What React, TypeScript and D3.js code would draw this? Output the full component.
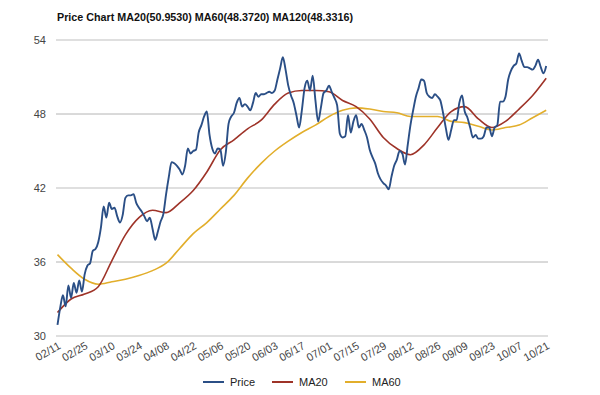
import React, { useEffect, useRef } from 'react';
import * as d3 from 'd3';

const title = 'Price Chart MA20(50.9530) MA60(48.3720) MA120(48.3316)';

// tick labels, one every 10 trading days
const tickLabels = [
	'02/11', '02/25', '03/10', '03/24', '04/08', '04/22', '05/06', '05/20', '06/03', '06/17',
	'07/01', '07/15', '07/29', '08/12', '08/26', '09/09', '09/23', '10/07', '10/21',
];

// daily close, 181 trading days
const price = [
	30.9, 32.3, 33.3, 32.4, 34.1, 33.1, 34.3, 33.5, 34.5, 33.6,
	35.0, 35.7, 35.9, 36.9, 37.05, 37.6, 38.8, 40.5, 39.6, 40.8,
	40.3, 40.4, 39.7, 39.2, 39.8, 41.2, 41.4, 41.4, 41.5, 40.8,
	40.4, 40.1, 39.7, 39.3, 39.6, 38.7, 37.8, 38.5, 39.3, 39.9,
	41.5, 42.9, 44.1, 44.0, 43.8, 43.5, 43.1, 43.8, 45.2, 44.8,
	45.0, 45.1, 46.5, 47.1, 47.8, 48.2, 46.3, 45.2, 44.8, 45.2,
	45.1, 43.8, 44.9, 47.2, 47.8, 48.1, 48.9, 49.3, 48.6, 48.8,
	48.6, 48.3, 48.9, 49.7, 49.4, 49.6, 49.6, 49.7, 49.8, 49.7,
	49.9, 50.8, 51.7, 52.6, 51.6, 50.3, 49.5, 48.9, 47.9, 46.9,
	48.3, 50.1, 50.7, 49.9, 51.1, 49.1, 47.4, 48.5, 49.7, 49.9,
	50.3, 49.8, 49.3, 48.7, 46.4, 46.1, 46.2, 47.9, 46.5, 47.4,
	47.9, 46.9, 47.2, 46.7, 46.1, 45.1, 44.5, 44.0, 43.2, 42.7,
	42.4, 42.2, 41.9, 42.9, 43.8, 44.3, 45.0, 44.8, 43.9, 45.5,
	47.1, 48.3, 49.4, 50.1, 50.8, 50.7, 49.7, 49.4, 49.3, 49.6,
	49.4, 49.1, 48.1, 46.9, 45.9, 46.7, 47.5, 47.5, 48.9, 49.5,
	48.2, 47.7, 46.9, 46.1, 46.3, 46.0, 46.0, 46.2, 46.9, 46.9,
	46.2, 46.9, 47.1, 49.0, 49.0, 49.4, 50.8, 51.5, 51.9, 52.1,
	52.9, 52.3, 51.8, 51.8, 51.7, 51.6, 51.9, 52.4, 51.8, 51.3,
	51.9,
];

// moving averages, read every 5 trading days
const ma20 = [
	31.9, 33.0, 33.4, 34.0, 36.1, 38.2, 39.6, 40.2, 40.0, 40.8,
	41.8, 43.3, 45.1, 45.9, 46.8, 47.5, 48.8, 49.7, 49.9, 49.9,
	49.8, 49.1, 48.6, 47.6, 46.1, 45.2, 44.7, 45.5, 46.9, 48.2,
	48.6, 47.6, 46.9, 47.4, 48.4, 49.5, 50.9,
];
const ma60 = [
	36.6, 35.5, 34.6, 34.2, 34.4, 34.6, 34.9, 35.3, 35.9, 37.1,
	38.3, 39.2, 40.3, 41.4, 42.8, 44.0, 45.0, 45.8, 46.5, 47.1,
	47.8, 48.3, 48.5, 48.4, 48.2, 48.1, 47.8, 47.8, 47.8, 47.4,
	47.3, 47.0, 46.7, 46.9, 47.1, 47.7, 48.3,
];
const yTicks = [30, 36, 42, 48, 54];

const series = [
	{ name: 'Price', color: '#2b4f86', step: 1, values: price },
	{ name: 'MA20', color: '#9e3328', step: 5, values: ma20 },
	{ name: 'MA60', color: '#e2ae2b', step: 5, values: ma60 },
];

const App: React.FC = () => {
	const svgRef = useRef<SVGSVGElement | null>(null);

	useEffect(() => {
		if (!svgRef.current) return;
		const width = 600;
		const height = 395;
		const margin = { left: 57.5, right: 53.8, top: 40, bottom: 59 };

		const svg = d3.select(svgRef.current);
		svg.selectAll('*').remove();
		svg.attr('width', width).attr('height', height);

		svg.append('rect').attr('width', width).attr('height', height).attr('fill', '#fff');

		const x = d3
			.scaleLinear()
			.domain([0, price.length - 1])
			.range([margin.left, width - margin.right]);
		const y = d3
			.scaleLinear()
			.domain([30, 54])
			.range([height - margin.bottom, margin.top]);

		svg
			.append('text')
			.attr('x', 57)
			.attr('y', 21)
			.attr('font-family', 'Liberation Sans, Arial, sans-serif')
			.attr('font-size', 11.5)
			.attr('font-weight', 'bold')
			.attr('fill', '#111')
			.attr('textLength', 296)
			.attr('lengthAdjust', 'spacingAndGlyphs')
			.text(title);

		// grid
		svg
			.append('g')
			.selectAll('line')
			.data(yTicks)
			.join('line')
			.attr('x1', 56)
			.attr('x2', 548)
			.attr('y1', (d) => y(d))
			.attr('y2', (d) => y(d))
			.attr('stroke', (d, i) => (i % 2 === 0 ? '#d4d4d4' : '#b4b4b4'))
			.attr('stroke-width', (d, i) => (i % 2 === 0 ? 1.6 : 1));

		svg
			.append('g')
			.attr('font-family', 'Liberation Sans, Arial, sans-serif')
			.attr('font-size', 11)
			.attr('fill', '#444')
			.attr('text-anchor', 'end')
			.selectAll('text')
			.data(yTicks)
			.join('text')
			.attr('x', 46)
			.attr('y', (d) => y(d) + 4)
			.text((d) => d);

		// x tick labels
		svg
			.append('g')
			.attr('font-family', 'Liberation Sans, Arial, sans-serif')
			.attr('font-size', 11)
			.attr('fill', '#444')
			.attr('text-anchor', 'end')
			.selectAll('text')
			.data(tickLabels)
			.join('text')
			.attr('transform', (d, i) => `translate(${x(i * 10) + 4},${height - margin.bottom + 12}) rotate(-30)`)
			.text((d) => d);

		const g = svg.append('g').attr('fill', 'none');
		series
			.slice()
			.reverse()
			.forEach((s) => {
				const line = d3
					.line<number>()
					.x((d, i) => x(i * s.step))
					.y((d) => y(d))
					.curve(d3.curveMonotoneX);
				g.append('path')
					.attr('d', line(s.values))
					.attr('stroke', s.color)
					.attr('stroke-width', s.step === 1 ? 1.9 : 1.6)
					.attr('stroke-linejoin', 'round');
			});

		// legend
		const legendX = [203, 272, 345];
		const legend = svg
			.append('g')
			.attr('font-family', 'Liberation Sans, Arial, sans-serif')
			.attr('font-size', 11)
			.selectAll('g')
			.data(series)
			.join('g')
			.attr('transform', (d, i) => `translate(${legendX[i]},382)`);
		legend
			.append('line')
			.attr('x1', 0)
			.attr('x2', 21)
			.attr('stroke', (d) => d.color)
			.attr('stroke-width', 2);
		legend
			.append('text')
			.attr('x', 27)
			.attr('y', 4)
			.attr('fill', '#222')
			.text((d) => d.name);
	}, []);

	return <svg ref={svgRef} style={{ position: 'absolute', left: 0, top: 0 }}></svg>;
};

export default App;
